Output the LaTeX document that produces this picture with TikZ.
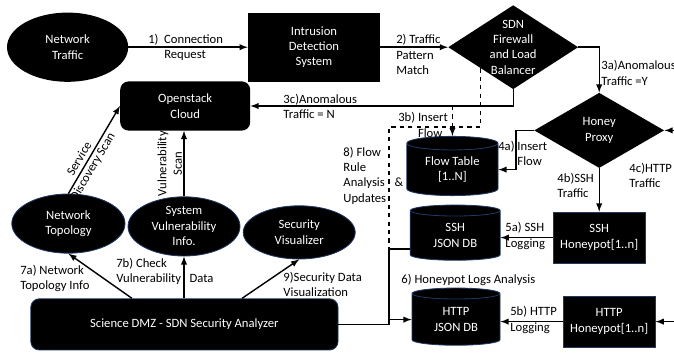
\documentclass[tikz,border=0pt]{standalone}
\usepackage{fontspec}
\setmainfont{Carlito}
\usetikzlibrary{shapes,arrows,positioning,calc}
\definecolor{dbblue}{RGB}{31,56,100}

\begin{document}
\begin{tikzpicture}[font=\fontsize{9}{11}\selectfont,
  box/.style={rectangle, fill=black, text=white, align=center, inner sep=0pt},
  rbox/.style={box, rounded corners=6pt},
  pot/.style={box, draw=dbblue, line width=0.6pt},
  oval/.style={ellipse, fill=black, text=white, align=center, inner sep=0pt},
  oval2/.style={oval, draw=dbblue, line width=0.6pt},
  choice/.style={diamond, fill=black, inner sep=0pt},
  txt/.style={text=white, align=center, inner sep=0pt},
  dbase/.style={cylinder, shape border rotate=90, aspect=0.25, fill=black, draw=dbblue, line width=0.6pt, text=white, align=center, inner sep=0pt},
  lbl/.style={align=left, inner sep=0pt, anchor=west},
  flow/.style={line width=1pt, -latex}]
\useasboundingbox (0,0) rectangle (16.85,8.8);

% top row
\node[oval, minimum width=3.03cm, minimum height=1.73cm] (traffic) at (1.69,7.62) {Network\\Traffic};
\node[box, minimum width=3.3cm, minimum height=1.73cm] (ids) at (7.85,7.62) {Intrusion\\Detection\\System};
\node[choice, minimum width=3.25cm, minimum height=2.1cm] (sdn) at (12.83,7.62) {};
\node[txt] (sdntxt) at (sdn) {SDN\\Firewall\\and Load\\Balancer};

\node[rbox, minimum width=3.25cm, minimum height=1.23cm] (cloud) at (4.63,6.15) {Openstack\\Cloud};
\node[choice, minimum width=3.25cm, minimum height=1.88cm] (proxy) at (14.98,5.54) {};
\node[txt] (proxytxt) at (proxy) {Honey\\Proxy};

% data stores and honeypots
\node[dbase, minimum width=2.28cm, minimum height=1.48cm] (flowtable) at (11.31,4.56) {Flow Table\\{[1..N]}};
\node[dbase, minimum width=2.25cm, minimum height=1.38cm] (sshdb) at (11.38,2.91) {SSH\\JSON DB};
\node[dbase, minimum width=2.2cm, minimum height=1.43cm] (httpdb) at (11.4,0.81) {HTTP\\JSON DB};
\node[pot, minimum width=2.3cm, minimum height=1.28cm] (sshpot) at (14.98,2.86) {SSH\\Honeypot[1..n]};
\node[pot, minimum width=2.3cm, minimum height=1.28cm] (httppot) at (15.23,0.76) {HTTP\\Honeypot[1..n]};

% analyzer side
\node[oval2, minimum width=2.83cm, minimum height=1.48cm] (topo) at (1.71,3.21) {Network\\Topology};
\node[oval2, minimum width=2.8cm, minimum height=1.48cm] (sysvuln) at (4.6,3.14) {System\\Vulnerability\\Info.};
\node[oval2, minimum width=2.8cm, minimum height=1.33cm] (visual) at (7.48,2.99) {Security\\Visualizer};
\node[rbox, draw=dbblue, line width=0.6pt, minimum width=7.68cm, minimum height=1.28cm] (analyzer) at (4.61,0.69) {Science DMZ - SDN Security Analyzer};

\coordinate (jn) at (9.73,2.58);
\coordinate (bend8) at (9.73,5.63);
\coordinate (edge1) at (16.85,5.54);
\coordinate (edge2) at (16.85,0.76);

% connectors
\draw[flow] (traffic) -- (ids);
\draw[flow] (ids) -- (sdn);
\draw[flow] (sdn.east) -| (proxy.north);
\draw[flow] (sdn.south) |- (cloud.east);
\draw[flow, dashed] (flowtable.north |- cloud.east) -- (flowtable.north);
\draw[line width=1pt, dashed] (sdn.south west) |- (bend8) -- (jn);
\draw[flow] (proxy.west) -- ++(-0.45,0) |- (flowtable.east);
\draw[flow] (proxy.south) -- (sshpot.north);
\draw[flow] (edge1) -- (proxy.east);
\draw[flow] (edge2) -- (httppot.east);
\draw[flow] (sshpot.west) -- (sshpot.west -| sshdb.east);
\draw[flow] (httppot.west) -- (httppot.west -| httpdb.east);
\draw[line width=1pt] (analyzer.east) -| (jn) -- (jn -| sshdb.west);
\draw[flow] (jn |- httpdb.west) -- (httpdb.west);
\draw[flow] (topo.north) -- node[sloped, pos=0.35, align=center] (sdscan) {Service\\Discovery Scan} (cloud.west);
\draw[flow] (sysvuln.north) -- node[midway, sloped, above, align=center, inner sep=1pt] (vscan) {Vulnerability\\Scan} (sysvuln.north |- cloud.south);
\draw[flow] ([xshift=-1.31cm]analyzer.north) -- (topo.south);
\draw[flow] (analyzer.north -| sysvuln.south) -- (sysvuln.south);
\draw[flow] ([xshift=1.44cm]analyzer.north) -- (visual.south);

% step labels
\node[lbl] (l1) at (3.7,7.62) {1)\ \ Connection\\\hphantom{1)\ \ }Request};
\node[lbl] (l2) at (9.9,7.43) {2) Traffic\\Pattern\\Match};
\node[lbl] (l3a) at (15.03,6.98) {3a)Anomalous\\Traffic =Y};
\node[lbl] (l3c) at (7.08,6.14) {3c)Anomalous\\Traffic = N};
\node[lbl] (l3b) at (9.95,5.675) {3b) Insert\\\hphantom{3b) }Flow};
\node[lbl] (l8) at (8.58,4.41) {8) Flow\\Rule\\Analysis\hspace{7pt}\&\\Updates};
\node[lbl] (l4a) at (12.45,4.96) {4a) Insert\\\hphantom{4a) }Flow};
\node[lbl] (l4b) at (13.93,4.16) {4b)SSH\\Traffic};
\node[lbl] (l4c) at (15.73,4.41) {4c)HTTP\\Traffic};
\node[lbl] (l5a) at (12.63,2.9) {5a) SSH\\Logging};
\node[lbl] (l5b) at (12.75,0.8) {5b) HTTP\\Logging};
\node[lbl] (l6) at (10.03,1.8) {6) Honeypot Logs Analysis};
\node[lbl] (l7a) at (0.5,1.84) {7a) Network\\Topology Info};
\node[lbl] (l7b) at (2.9,2.01) {7b) Check\\Vulnerability\hspace{6pt}Data};
\node[lbl] (l9) at (7.08,1.69) {9)Security Data\\Visualization};
\end{tikzpicture}
\end{document}
